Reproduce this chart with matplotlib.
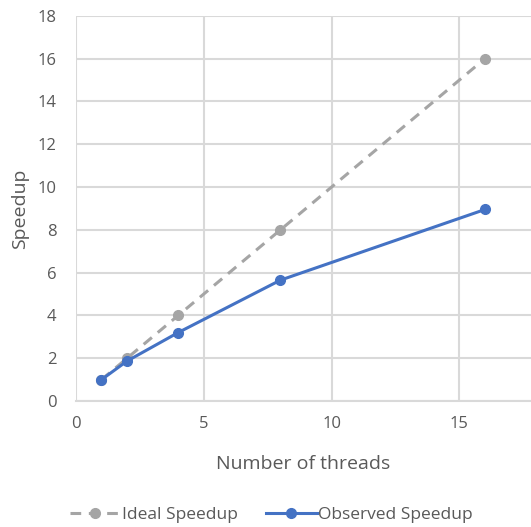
from matplotlib import pyplot as plt

# Speedup measured against thread count
threads = [1, 2, 4, 8, 16]
ideal_speedup = [1, 2, 4, 8, 16]
observed_speedup = [1, 1.87, 3.2, 5.65, 8.95]

x_ticks = [0, 5, 10, 15]
y_ticks = [0, 2, 4, 6, 8, 10, 12, 14, 16, 18]

plt.rcParams['font.family'] = ['Open Sans', 'DejaVu Sans']

fig = plt.figure(figsize=(5.31, 5.27), dpi=100)
ax = fig.add_axes([0.143, 0.239, 0.857, 0.731])

ax.plot(threads, ideal_speedup, color='#A5A5A5', linestyle=(0, (3.5, 2.5)),
        linewidth=2.2, marker='o', markersize=7, label='Ideal Speedup')
ax.plot(threads, observed_speedup, color='#4472C4', linewidth=2.2,
        marker='o', markersize=7, label='Observed Speedup')

ax.set_xlim(0, 17.8)
ax.set_ylim(0, 18)
ax.set_xticks(x_ticks)
ax.set_yticks(y_ticks)
ax.grid(True, color='#D9D9D9', linewidth=1.5)
ax.set_axisbelow(True)
for side in ['top', 'right', 'left']:
    ax.spines[side].set_visible(False)
ax.spines['bottom'].set_color('#D9D9D9')
ax.spines['bottom'].set_linewidth(1.5)
ax.tick_params(length=0, labelsize=12, labelcolor='#595959')
ax.tick_params(axis='y', pad=14)
ax.tick_params(axis='x', pad=11)

ax.set_xlabel('Number of threads', fontsize=14, color='#595959', labelpad=16)
ax.set_ylabel('Speedup', fontsize=14, color='#595959', labelpad=6)

fig.legend(loc='lower center', bbox_to_anchor=(0.511, -0.022), ncol=2,
           frameon=False, fontsize=12.5, labelcolor='#595959',
           handlelength=2.9, handletextpad=0.08, columnspacing=1.65)

fig.savefig('out.png', dpi=100)
